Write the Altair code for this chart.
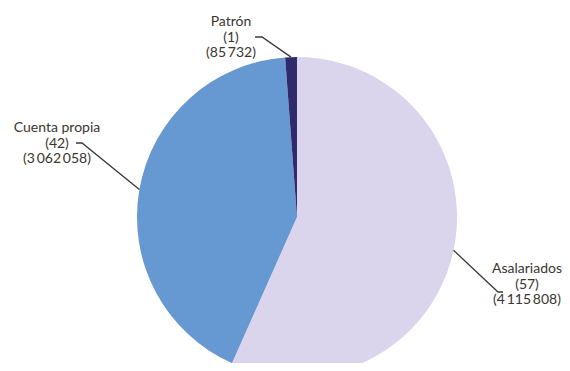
import math
import altair as alt
import pandas as pd

# ---- data ----
categories = ["Asalariados", "Cuenta propia", "Patrón"]
percent = [57, 42, 1]
workers = [4115808, 3062058, 85732]
count_text = ["4\u2009115\u2009808", "3\u2009062\u2009058", "85\u2009732"]
colors = ["#dad4ec", "#6699d2", "#2f2a6b"]

# ---- layout (pixel positions inside the 554x355 view) ----
W, H = 554, 355
CX, CY, R = 289, 209, 160
elbow = {"Asalariados": (490, 284), "Cuenta propia": (74, 135), "Patrón": (254, 29)}
tail = {"Asalariados": (495, 284), "Cuenta propia": (68, 135), "Patrón": (247, 29)}
# position of the first text line's centre
text_pos = {"Asalariados": (519, 261), "Cuenta propia": (49, 120), "Patrón": (223, 14)}

total = sum(workers)
df = pd.DataFrame({"cat": categories, "pct": percent, "n": workers, "idx": range(len(categories))})

# leader lines start on the pie edge at each slice's mid angle
rows = []
cum = 0
for c, n in zip(categories, workers):
    mid = (cum + n / 2) / total * 2 * math.pi
    cum += n
    ex, ey = CX + R * math.sin(mid), CY - R * math.cos(mid)
    pts = [(ex, ey), elbow[c], tail[c]]
    for k, (px, py) in enumerate(pts):
        rows.append({"cat": c, "k": k, "px": px, "py": py})
lines_df = pd.DataFrame(rows)

labels_df = pd.DataFrame({
    "cat": categories,
    "txt": [f"{c}\n({p})\n({t})" for c, p, t in zip(categories, percent, count_text)],
    "px": [text_pos[c][0] for c in categories],
    "py": [text_pos[c][1] for c in categories],
})

xs = alt.Scale(domain=[0, W], range=[0, W])
ys = alt.Scale(domain=[0, H], range=[0, H])

pie = alt.Chart(df).mark_arc(radius=R).encode(
    theta=alt.Theta("n:Q", stack=True),
    order=alt.Order("idx:Q"),
    color=alt.Color("cat:N", scale=alt.Scale(domain=categories, range=colors), legend=None),
    x=alt.value(CX),
    y=alt.value(CY),
)

leaders = alt.Chart(lines_df).mark_line(color="#3a3a3a", strokeWidth=1.3).encode(
    x=alt.X("px:Q", scale=xs, axis=None),
    y=alt.Y("py:Q", scale=ys, axis=None),
    detail="cat:N",
    order="k:Q",
)

texts = alt.Chart(labels_df).mark_text(
    lineBreak="\n", lineHeight=15.5, font="Lato", fontSize=14,
    color="#3a3530", align="center", baseline="middle",
).encode(
    x=alt.X("px:Q", scale=xs, axis=None),
    y=alt.Y("py:Q", scale=ys, axis=None),
    text="txt:N",
)

chart = alt.layer(pie, leaders, texts).properties(
    width=W, height=H, padding=0, autosize="none"
).configure_view(stroke=None)

chart.save("out.html", embed_options={"renderer": "svg", "actions": False})
